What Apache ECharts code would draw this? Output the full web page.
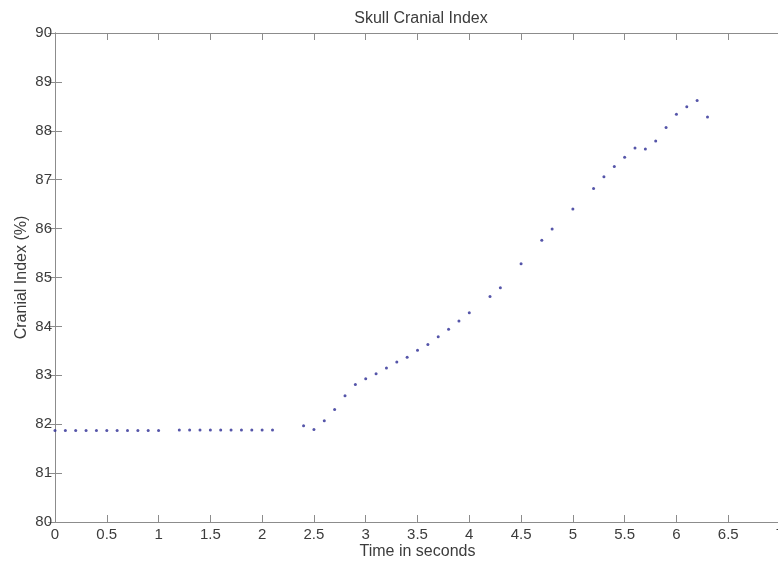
<!DOCTYPE html>
<html>
<head>
<meta charset="utf-8">
<title>Skull Cranial Index</title>
<script src="https://cdn.jsdelivr.net/npm/echarts@6/dist/echarts.min.js"></script>
<style>
    html, body { margin: 0; padding: 0; background: #fff; }
    #chart { width: 778px; height: 561px; }
</style>
</head>
<body>
<div id="chart"></div>
<script>
// 时间 (s)
const timeSec = [
    0, 0.1, 0.2, 0.3, 0.4, 0.5, 0.6, 0.7, 0.8, 0.9, 1.0,
    1.2, 1.3, 1.4, 1.5, 1.6, 1.7, 1.8, 1.9, 2.0, 2.1,
    2.4, 2.5, 2.6, 2.7, 2.8, 2.9, 3.0, 3.1, 3.2, 3.3, 3.4, 3.5, 3.6, 3.7, 3.8, 3.9, 4.0,
    4.2, 4.3, 4.5, 4.7, 4.8, 5.0, 5.2, 5.3, 5.4, 5.5, 5.6, 5.7, 5.8, 5.9, 6.0, 6.1, 6.2, 6.3
];
// 颅指数 (%)
const cranialIndex = [
    81.87, 81.87, 81.87, 81.87, 81.87, 81.87, 81.87, 81.87, 81.87, 81.87, 81.87,
    81.88, 81.88, 81.88, 81.88, 81.88, 81.88, 81.88, 81.88, 81.88, 81.88,
    81.97, 81.89, 82.07, 82.30, 82.58, 82.81, 82.93, 83.03, 83.15, 83.27, 83.37, 83.51, 83.63, 83.79, 83.94, 84.11, 84.28,
    84.61, 84.79, 85.28, 85.76, 85.99, 86.40, 86.82, 87.06, 87.27, 87.46, 87.65, 87.63, 87.79, 88.07, 88.34, 88.49, 88.62, 88.28
];
const xTicks = { min: 0, max: 7, interval: 0.5 };
const yTicks = { min: 80, max: 90, interval: 1 };

const axisGray = '#8c8c8c';
const textColor = '#3c3c3c';
const fontFamily = 'Liberation Sans, Arial, sans-serif';

const baseAxis = (t) => ({
    type: 'value',
    min: t.min,
    max: t.max,
    interval: t.interval,
    splitLine: { show: false },
    axisLine: { show: true, lineStyle: { color: axisGray, width: 1 } },
    axisTick: { show: true, inside: true, length: 7, lineStyle: { color: axisGray } }
});

const chart = echarts.init(document.getElementById('chart'));
chart.setOption({
    animation: false,
    backgroundColor: '#fff',
    title: {
        text: 'Skull Cranial Index',
        left: 416,
        textAlign: 'center',
        top: 6,
        textStyle: { fontFamily, fontSize: 16, fontWeight: 'normal', color: textColor }
    },
    grid: {
        left: 55, right: -2, top: 33, bottom: 39,
        containLabel: false,
        outerBoundsMode: 'none'
    },
    xAxis: [
        Object.assign(baseAxis(xTicks), {
            position: 'bottom',
            name: 'Time in seconds',
            nameLocation: 'middle',
            nameGap: 22,
            nameMoveOverlap: false,
            nameTextStyle: { fontFamily, fontSize: 16, color: textColor },
            axisLabel: {
                fontFamily, fontSize: 15, color: textColor, margin: 5,
                showMaxLabel: true
            }
        }),
        Object.assign(baseAxis(xTicks), {
            position: 'top',
            axisLabel: { show: false }
        })
    ],
    yAxis: [
        Object.assign(baseAxis(yTicks), {
            position: 'left',
            name: 'Cranial Index (%)',
            nameLocation: 'middle',
            nameGap: 25,
            nameMoveOverlap: false,
            nameTextStyle: { fontFamily, fontSize: 16, color: textColor },
            axisLabel: { fontFamily, fontSize: 15, color: textColor, margin: 3 }
        }),
        Object.assign(baseAxis(yTicks), {
            position: 'right',
            axisLabel: { show: false }
        })
    ],
    series: [{
        type: 'scatter',
        symbol: 'circle',
        symbolSize: 3,
        itemStyle: { color: '#2a2a94' },
        data: timeSec.map((t, i) => [t, cranialIndex[i]])
    }]
});
</script>
</body>
</html>
